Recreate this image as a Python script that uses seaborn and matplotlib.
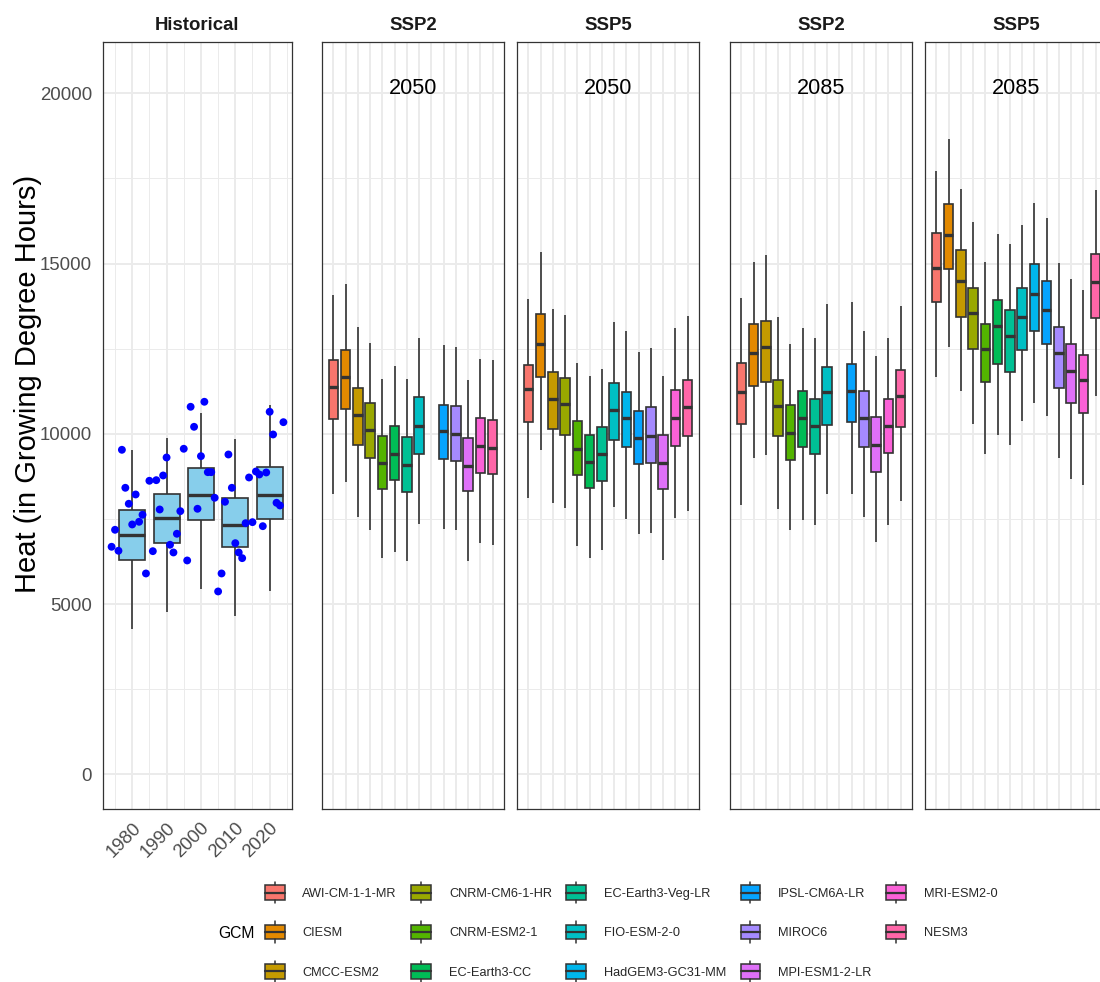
import numpy as np
import pandas as pd
import matplotlib
matplotlib.use("Agg")
import matplotlib.pyplot as plt
import seaborn as sns
from matplotlib.legend_handler import HandlerBase
from matplotlib.patches import Rectangle, Patch
from matplotlib.lines import Line2D

# ---------------- data ----------------
gcms = ["AWI-CM-1-1-MR", "CIESM", "CMCC-ESM2", "CNRM-CM6-1-HR", "CNRM-ESM2-1",
        "EC-Earth3-CC", "EC-Earth3-Veg-LR", "FIO-ESM-2-0", "HadGEM3-GC31-MM",
        "IPSL-CM6A-LR", "MIROC6", "MPI-ESM1-2-LR", "MRI-ESM2-0", "NESM3"]

hist_years = list(range(1974, 2025))
hist_values = [6682, 7181, 6565, 9530, 8414, 7945, 7337, 8218, 7416, 7622, 5898,
               8620, 6553, 8638, 7777, 8776, 9304, 6741, 6515, 7064, 7728,
               9560, 6280, 10793, 10205, 7798, 9343, 10940, 8873, 8873, 8121,
               5370, 5898, 8003, 9392, 8414, 6788, 6515, 6348, 7375, 8717, 7405,
               8893, 8805, 7287, 8864, 10646, 9980, 7974, 7895, 10341]

hist_decades = [1980, 1990, 2000, 2010, 2020]
hist_low = [4254, 4774, 5438, 4645, 5379]
hist_q1 = [6280, 6788, 7475, 6671, 7493]
hist_med = [7014, 7513, 8209, 7328, 8209]
hist_q3 = [7768, 8238, 8981, 8121, 9031]
hist_high = [9530, 9883, 10617, 9833, 10860]

panel_titles = ["SSP2", "SSP5", "SSP2", "SSP5"]
panel_years = ["2050", "2050", "2085", "2085"]

ssp2_2050_low = [8238, 8570, 7563, 7170, 6339, 6524, 6260, 7358, None, 7200, 7161, 6251, 6800, 6720]
ssp2_2050_q1 = [10420, 10723, 9665, 9275, 8385, 8638, 8297, 9401, None, 9246, 9187, 8306, 8834, 8826]
ssp2_2050_med = [11368, 11662, 10546, 10097, 9149, 9413, 9090, 10214, None, 10077, 9980, 9050, 9636, 9589]
ssp2_2050_q3 = [12172, 12455, 11339, 10910, 9930, 10235, 9891, 11066, None, 10860, 10802, 9872, 10458, 10399]
ssp2_2050_high = [14069, 14413, 13150, 12672, 11615, 11976, 11615, 12827, None, 12593, 12543, 11585, 12191, 12181]

ssp5_2050_low = [8121, 9530, 7962, 7816, 6700, 6339, 6583, 7845, 7493, 7053, 7093, 6300, 7534, 7728]
ssp5_2050_q1 = [10341, 11662, 10126, 9971, 8796, 8394, 8609, 9824, 9598, 9099, 9138, 8385, 9627, 9930]
ssp5_2050_med = [11301, 12631, 11016, 10869, 9548, 9157, 9392, 10705, 10449, 9883, 9921, 9138, 10458, 10793]
ssp5_2050_q3 = [12026, 13532, 11800, 11644, 10370, 9971, 10195, 11506, 11213, 10675, 10772, 9950, 11280, 11565]
ssp5_2050_high = [13972, 15344, 13650, 13494, 12073, 11691, 11917, 13277, 13024, 12416, 12514, 11691, 13092, 13453]

ssp2_2085_low = [7915, 9275, 9372, 7787, 7161, 7475, 7328, 8227, None, 8227, 7563, 6809, 7328, 8012]
ssp2_2085_q1 = [10302, 11389, 11516, 9921, 9237, 9598, 9401, 10264, None, 10341, 9618, 8884, 9422, 10206]
ssp2_2085_med = [11213, 12378, 12563, 10810, 10029, 10449, 10214, 11213, None, 11262, 10470, 9665, 10235, 11104]
ssp2_2085_q3 = [12085, 13238, 13326, 11574, 10851, 11271, 11036, 11955, None, 12035, 11251, 10488, 11036, 11879]
ssp2_2085_high = [14002, 15059, 15264, 13435, 12622, 13121, 12827, 13817, None, 13876, 13004, 12270, 12827, 13767]

ssp5_2085_low = [11674, 12563, 11251, 10273, 9413, 9971, 9665, 10382, 10898, 10528, 9295, 8667, 8482, 11124]
ssp5_2085_q1 = [13864, 14844, 13444, 12496, 11516, 12064, 11800, 12475, 13033, 12642, 11330, 10910, 10625, 13394]
ssp5_2085_med = [14883, 15843, 14501, 13561, 12484, 13171, 12857, 13444, 14110, 13641, 12366, 11858, 11574, 14451]
ssp5_2085_q3 = [15890, 16762, 15402, 14295, 13238, 13923, 13641, 14287, 14991, 14501, 13130, 12622, 12328, 15284]
ssp5_2085_high = [17731, 18661, 17193, 16213, 15059, 15881, 15578, 16136, 16771, 16342, 15021, 14560, 14237, 17173]

panels = [
    (ssp2_2050_low, ssp2_2050_q1, ssp2_2050_med, ssp2_2050_q3, ssp2_2050_high),
    (ssp5_2050_low, ssp5_2050_q1, ssp5_2050_med, ssp5_2050_q3, ssp5_2050_high),
    (ssp2_2085_low, ssp2_2085_q1, ssp2_2085_med, ssp2_2085_q3, ssp2_2085_high),
    (ssp5_2085_low, ssp5_2085_q1, ssp5_2085_med, ssp5_2085_q3, ssp5_2085_high),
]

# ---------------- colours (ggplot hue palette) ----------------
def hcl_hex(h, c=100.0, l=65.0):
    hr = np.deg2rad(h)
    u, v = c * np.cos(hr), c * np.sin(hr)
    Y = ((l + 16) / 116) ** 3
    Xn, Yn, Zn = 0.95047, 1.0, 1.08883
    den = Xn + 15 * Yn + 3 * Zn
    un, vn = 4 * Xn / den, 9 * Yn / den
    up, vp = u / (13 * l) + un, v / (13 * l) + vn
    X = Y * 9 * up / (4 * vp)
    Z = Y * (12 - 3 * up - 20 * vp) / (4 * vp)
    rgb = np.array([3.2404542 * X - 1.5371385 * Y - 0.4985314 * Z,
                    -0.9692660 * X + 1.8760108 * Y + 0.0415560 * Z,
                    0.0556434 * X - 0.2040259 * Y + 1.0572252 * Z])
    rgb = np.where(rgb <= 0.0031308, 12.92 * rgb, 1.055 * np.abs(rgb) ** (1 / 2.4) - 0.055)
    rgb = np.clip(rgb, 0, 1)
    return "#%02X%02X%02X" % tuple(int(round(x * 255)) for x in rgb)

n_pal = len(gcms)
hues = [15 + 360.0 / n_pal * k for k in range(n_pal)]
colors = [hcl_hex(h) for h in hues]
palette = dict(zip(gcms, colors))

# ---------------- figure ----------------
sns.set_theme(style="white")
plt.rcParams["font.family"] = ["Liberation Sans", "DejaVu Sans"]

W, H = 1100, 982
fig = plt.figure(figsize=(W / 100, H / 100), dpi=100)

top_px, bot_px = 41.5, 808.5
YLIM = (-1004, 21520)
EDGE = "#333333"
GRID = "#EBEBEB"
TICKC = "#4D4D4D"
BOX_LW = 1.2


def add_axes(xl, xr):
    return fig.add_axes([xl / W, 1 - bot_px / H, (xr - xl) / W, (bot_px - top_px) / H])


def style_axes(ax):
    for s in ax.spines.values():
        s.set_color(EDGE)
        s.set_linewidth(0.9)
        s.set_visible(True)
    ax.set_axisbelow(True)
    ax.set_ylim(*YLIM)
    ax.set_yticks([0, 5000, 10000, 15000, 20000])
    ax.set_yticks([2500, 7500, 12500, 17500], minor=True)
    ax.tick_params(which="major", length=5, width=1.0, color=EDGE)
    ax.tick_params(which="minor", length=0)
    ax.set_xlabel("")
    ax.set_ylabel("")


# Historical panel
axh = add_axes(103, 292)
hist_df = pd.DataFrame({
    "decade": np.repeat(hist_decades, 5),
    "value": np.ravel(np.column_stack([hist_low, hist_q1, hist_med, hist_q3, hist_high])),
})
sns.boxplot(data=hist_df, x="decade", y="value", native_scale=True, width=0.76,
            color="#87CEEB", saturation=1, linecolor=EDGE, linewidth=BOX_LW,
            whis=(0, 100), showcaps=False,
            medianprops=dict(linewidth=2.4, color=EDGE), ax=axh)
sns.scatterplot(x=hist_years, y=hist_values, color="blue", s=32, edgecolor="none",
                ax=axh, zorder=4, legend=False)
style_axes(axh)
axh.set_xlim(1971.5, 2026.5)
axh.set_xticks(hist_decades)
axh.set_xticks([1975, 1985, 1995, 2005, 2015, 2025], minor=True)
axh.grid(True, which="major", color=GRID, linewidth=1.4)
axh.grid(True, which="minor", color=GRID, linewidth=0.7)
axh.set_xticklabels([str(d) for d in hist_decades], rotation=45, ha="right",
                    rotation_mode="anchor", fontsize=13.4, color=TICKC)
axh.set_yticklabels(["0", "5000", "10000", "15000", "20000"], fontsize=13.4, color=TICKC)
axh.tick_params(axis="y", pad=3)
axh.tick_params(axis="x", pad=3)
axh.set_title("Historical", fontweight="bold", fontsize=13.4, color="#1A1A1A", pad=8)

# Future panels
panel_x = [(322, 504), (517, 699), (730, 912), (925, 1107)]
for (xl, xr), stats, ttl, yr in zip(panel_x, panels, panel_titles, panel_years):
    ax = add_axes(xl, xr)
    rows_g, rows_v = [], []
    for i, g in enumerate(gcms):
        vals = [s[i] for s in stats]
        if vals[0] is None:
            continue
        rows_g += [g] * 5
        rows_v += vals
    df = pd.DataFrame({"GCM": rows_g, "value": rows_v})
    sns.boxplot(data=df, x="GCM", y="value", order=gcms, hue="GCM", hue_order=gcms,
                palette=palette, saturation=1, width=0.78, linecolor=EDGE,
                linewidth=BOX_LW, whis=(0, 100), showcaps=False, legend=False,
                medianprops=dict(linewidth=2.4, color=EDGE), ax=ax)
    style_axes(ax)
    ax.set_xlim(-0.94, len(gcms) - 1 + 0.94)
    ax.set_xticks(range(len(gcms)))
    ax.set_xticklabels([""] * len(gcms))
    ax.tick_params(axis="y", length=0, labelleft=False)
    ax.grid(True, which="major", color=GRID, linewidth=1.4)
    ax.grid(True, which="minor", axis="y", color=GRID, linewidth=0.7)
    ax.set_title(ttl, fontweight="bold", fontsize=13.4, color="#1A1A1A", pad=8)
    ax.text((len(gcms) - 1) / 2, 20150, yr, ha="center", va="center",
            fontsize=15.6, color="black")

fig.text(28 / W, 1 - 384 / H, "Heat (in Growing Degree Hours)", rotation=90,
         ha="center", va="center", fontsize=21, color="black")


# ---------------- legend ----------------
class BoxKey(HandlerBase):
    """Boxplot-style legend key drawn with absolute sizes (points) around the row centre."""
    def create_artists(self, legend, orig_handle, xdescent, ydescent, width, height,
                       fontsize, trans):
        fc = orig_handle.get_facecolor()
        x0 = -xdescent
        cy = -ydescent + height / 2
        half_box = 5.3   # pt
        half_all = 7.8   # pt
        rect = Rectangle((x0, cy - half_box), width, 2 * half_box, facecolor=fc,
                         edgecolor=EDGE, linewidth=1.1, transform=trans)
        med = Line2D([x0, x0 + width], [cy, cy], color=EDGE, linewidth=1.6,
                     transform=trans)
        xm = x0 + width / 2
        w1 = Line2D([xm, xm], [cy - half_all, cy - half_box], color=EDGE,
                    linewidth=1.1, transform=trans)
        w2 = Line2D([xm, xm], [cy + half_box, cy + half_all], color=EDGE,
                    linewidth=1.1, transform=trans)
        return [rect, med, w1, w2]


handles = [Patch(facecolor=palette[g]) for g in gcms]
fig.legend(handles, gcms, handler_map={Patch: BoxKey()}, loc="center",
           bbox_to_anchor=(631 / W, 1 - 932 / H), ncol=5, frameon=False,
           fontsize=9.2, handlelength=1.55, handleheight=1.7, handletextpad=1.4,
           columnspacing=1.12, labelspacing=1.74, borderpad=0)
fig.text(218 / W, 1 - 933 / H, "GCM", ha="left", va="center", fontsize=11.3,
         color="black")

fig.savefig("out.png", dpi=100)
